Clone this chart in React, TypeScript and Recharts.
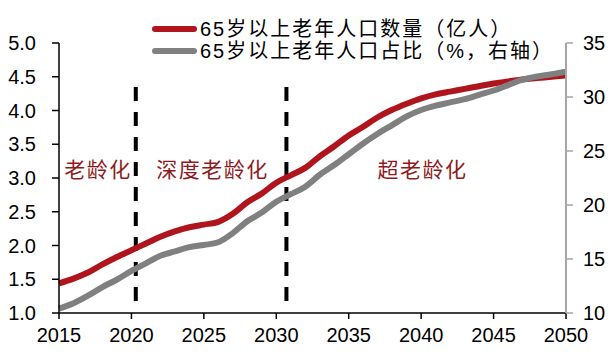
import React from 'react';
import { LineChart, Line, XAxis, YAxis, ReferenceLine, ReferenceDot, Legend } from 'recharts';

const years = [
  2015, 2016, 2017, 2018, 2019, 2020, 2021, 2022, 2023, 2024, 2025, 2026,
  2027, 2028, 2029, 2030, 2031, 2032, 2033, 2034, 2035, 2036, 2037, 2038,
  2039, 2040, 2041, 2042, 2043, 2044, 2045, 2046, 2047, 2048, 2049, 2050,
];
// 65岁以上老年人口数量（亿人）
const elderlyCount = [
  1.44, 1.51, 1.6, 1.72, 1.83, 1.93, 2.03, 2.13, 2.21, 2.27, 2.31, 2.35,
  2.47, 2.64, 2.77, 2.93, 3.04, 3.15, 3.32, 3.47, 3.63, 3.76, 3.9, 4.01,
  4.1, 4.18, 4.24, 4.28, 4.32, 4.36, 4.4, 4.43, 4.46, 4.48, 4.5, 4.52,
];
// 65岁以上老年人口占比（%）
const elderlyShare = [
  10.4, 10.9, 11.6, 12.4, 13.1, 13.9, 14.6, 15.3, 15.7, 16.1, 16.3, 16.55,
  17.4, 18.5, 19.3, 20.3, 21.0, 21.7, 22.8, 23.7, 24.7, 25.7, 26.6, 27.4,
  28.2, 28.8, 29.2, 29.5, 29.8, 30.2, 30.6, 31.1, 31.6, 31.9, 32.1, 32.35,
];
const xTicks = [2015, 2020, 2025, 2030, 2035, 2040, 2045, 2050];
const leftTicks = [1.0, 1.5, 2.0, 2.5, 3.0, 3.5, 4.0, 4.5, 5.0];
const rightTicks = [10, 15, 20, 25, 30, 35];
const seriesNames = ['65岁以上老年人口数量（亿人）', '65岁以上老年人口占比（%，右轴）'];
const stageLabels = ['老龄化', '深度老龄化', '超老龄化'];
const stageCenters = [2017.7, 2025.6, 2040.1];
const stageLabelY = 3.13;
const stageBoundaries = [2020.3, 2030.7];
const boundaryRange = [4.35, 1.15];

const COLORS = ['#B0141C', '#808080'];

const data = years.map((year, i) => ({
  year,
  count: elderlyCount[i],
  share: elderlyShare[i],
}));

const tickStyle = { fill: '#000', fontSize: 20, fontFamily: '"Liberation Sans", Arial, sans-serif' };

const renderLegend = () => (
  <div style={{ display: 'flex', flexDirection: 'column' }}>
    {seriesNames.map((name, i) => (
      <div key={name} style={{ display: 'flex', alignItems: 'center', height: 22 }}>
        <div style={{ width: 45, height: 6, background: COLORS[i], borderRadius: 3, marginRight: 3 }} />
        <span
          style={{
            fontSize: 20,
            lineHeight: '22px',
            letterSpacing: 2,
            color: '#000',
            fontFamily: '"Liberation Sans", "Noto Sans CJK SC", sans-serif',
            whiteSpace: 'nowrap',
          }}
        >
          {name}
        </span>
      </div>
    ))}
  </div>
);

export default function App() {
  return (
    <div style={{ position: 'absolute', left: 0, top: 0, width: 615, height: 363, background: '#fff' }}>
      <LineChart width={615} height={363} data={data} margin={{ top: 43, right: 0, bottom: 0, left: 0 }}>
        <XAxis
          dataKey="year"
          type="number"
          domain={[2015, 2050]}
          ticks={xTicks}
          height={50}
          tickSize={6}
          tickMargin={9}
          axisLine={{ stroke: '#000', strokeWidth: 1.5 }}
          tickLine={{ stroke: '#000', strokeWidth: 1.5 }}
          tick={tickStyle}
          interval={0}
        />
        <YAxis
          yAxisId="left"
          orientation="left"
          width={59}
          domain={[1, 5]}
          ticks={leftTicks}
          tickFormatter={(v: number) => v.toFixed(1)}
          tickSize={7}
          tickMargin={16}
          axisLine={{ stroke: '#000', strokeWidth: 1.5 }}
          tickLine={{ stroke: '#000', strokeWidth: 1.5 }}
          tick={tickStyle}
          interval={0}
        />
        <YAxis
          yAxisId="right"
          orientation="right"
          width={49}
          domain={[10, 35]}
          ticks={rightTicks}
          tickSize={7}
          tickMargin={10}
          axisLine={{ stroke: '#A6A6A6', strokeWidth: 2 }}
          tickLine={{ stroke: '#A6A6A6', strokeWidth: 1.5 }}
          tick={tickStyle}
          interval={0}
        />
        <Legend
          layout="horizontal"
          verticalAlign="middle"
          align="center"
          content={renderLegend}
          wrapperStyle={{ position: 'absolute', top: 18, left: 152, width: 'auto', height: 'auto' }}
        />
        {stageBoundaries.map((x) => (
          <ReferenceLine
            key={x}
            yAxisId="left"
            segment={[
              { x, y: boundaryRange[0] },
              { x, y: boundaryRange[1] },
            ]}
            stroke="#000"
            strokeWidth={4}
            strokeDasharray="14 11"
          />
        ))}
        {stageLabels.map((label, i) => (
          <ReferenceDot
            key={label}
            yAxisId="left"
            x={stageCenters[i]}
            y={stageLabelY}
            r={1}
            fill="none"
            stroke="none"
            label={{
              value: label,
              position: 'center',
              fill: '#8E1B22',
              fontSize: 21,
              letterSpacing: 1.5,
              fontFamily: '"Noto Sans CJK SC", sans-serif',
            }}
          />
        ))}
        <Line
          yAxisId="left"
          type="monotone"
          dataKey="count"
          name={seriesNames[0]}
          stroke={COLORS[0]}
          strokeWidth={6}
          dot={false}
          isAnimationActive={false}
        />
        <Line
          yAxisId="right"
          type="monotone"
          dataKey="share"
          name={seriesNames[1]}
          stroke={COLORS[1]}
          strokeWidth={6}
          dot={false}
          isAnimationActive={false}
        />
      </LineChart>
    </div>
  );
}
